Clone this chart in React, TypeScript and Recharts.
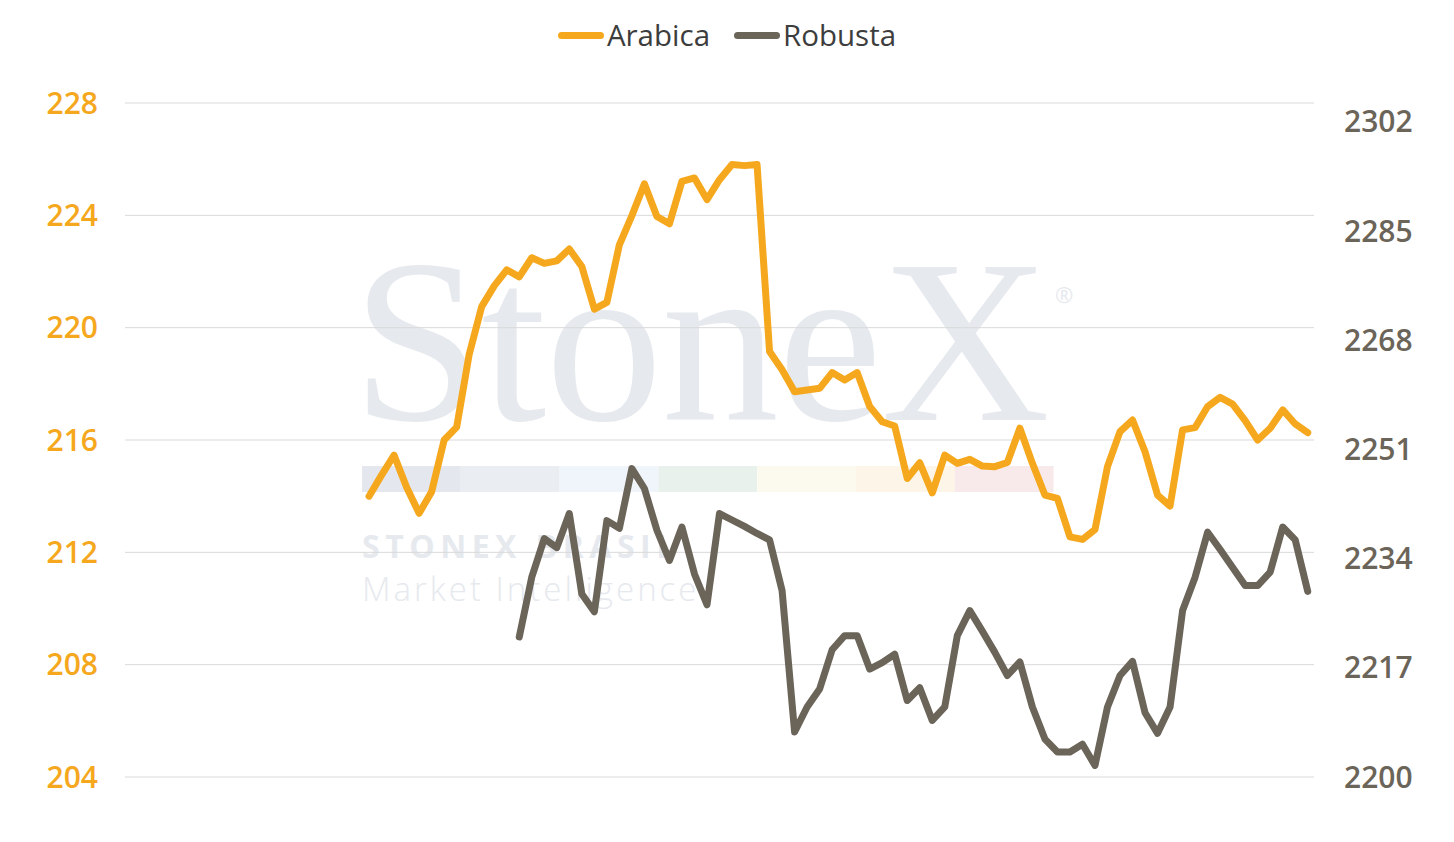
import React from 'react';
import { LineChart, Line, XAxis, YAxis, CartesianGrid, Legend } from 'recharts';

// Trading-day slots on the horizontal axis (no labels shown in the original)
const slotCount = 95;
const categories: string[] = Array.from({ length: slotCount }, (_, i) => `D${i + 1}`);

// Arabica (left axis) starts at slot 20
const arabicaStart = 19;
const arabica: number[] = [
  214.0, 214.75, 215.46, 214.32, 213.39, 214.16, 216.0, 216.46, 219.05, 220.75,
  221.49, 222.06, 221.81, 222.49, 222.29, 222.38, 222.8, 222.18, 220.66, 220.9,
  222.95, 223.99, 225.12, 223.96, 223.7, 225.21, 225.33, 224.56, 225.27, 225.81,
  225.77, 225.81, 219.15, 218.5, 217.72, 217.78, 217.84, 218.4, 218.14, 218.4,
  217.19, 216.65, 216.5, 214.63, 215.19, 214.12, 215.46, 215.17, 215.31, 215.07,
  215.05, 215.2, 216.42, 215.17, 214.04, 213.92, 212.55, 212.46, 212.81, 215.05,
  216.3, 216.71, 215.58, 214.04, 213.65, 216.36, 216.44, 217.19, 217.52, 217.28,
  216.69, 216.0, 216.42, 217.07, 216.57, 216.26,
];

// Robusta (right axis) starts at slot 32
const robustaStart = 31;
const robusta: number[] = [
  2221.8, 2231.1, 2237.1, 2235.7, 2241.0, 2228.5, 2225.7, 2239.9, 2238.7, 2248.0,
  2244.9, 2238.4, 2233.7, 2238.9, 2231.6, 2226.8, 2241.0, 2240.0, 2239.0, 2237.9,
  2236.9, 2229.0, 2207.0, 2210.9, 2213.7, 2219.8, 2222.0, 2222.0, 2216.8, 2217.8,
  2219.1, 2211.9, 2213.9, 2208.8, 2210.9, 2222.0, 2225.9, 2222.7, 2219.4, 2215.8,
  2217.9, 2210.9, 2205.9, 2203.9, 2203.9, 2205.1, 2201.8, 2210.9, 2215.8, 2218.0,
  2210.0, 2206.8, 2210.9, 2225.9, 2231.1, 2238.1, 2235.4, 2232.6, 2229.8, 2229.8,
  2231.9, 2238.9, 2236.9, 2228.9,
];

const leftTicks = [204, 208, 212, 216, 220, 224, 228];
const rightTicks = [2200, 2217, 2234, 2251, 2268, 2285, 2302];

const ARABICA_COLOR = '#F5A81D';
const ROBUSTA_COLOR = '#6B6459';

const data = categories.map((c, i) => ({
  day: c,
  Arabica: i >= arabicaStart && i - arabicaStart < arabica.length ? arabica[i - arabicaStart] : null,
  Robusta: i >= robustaStart && i - robustaStart < robusta.length ? robusta[i - robustaStart] : null,
}));

const tickFont = { fontFamily: 'Open Sans', fontWeight: 600, fontSize: 30 };

const LegendContent = () => (
  <div
    style={{
      display: 'flex',
      justifyContent: 'center',
      alignItems: 'center',
      height: 40,
      fontFamily: 'Open Sans',
      fontSize: 29.5,
      color: '#3d3d3d',
    }}
  >
    {[
      { name: 'Arabica', color: ARABICA_COLOR },
      { name: 'Robusta', color: ROBUSTA_COLOR },
    ].map((it, k) => (
      <div key={it.name} style={{ display: 'flex', alignItems: 'center', marginLeft: k ? 24 : 0 }}>
        <div style={{ width: 46, height: 7, borderRadius: 4, background: it.color, marginRight: 3 }} />
        <span style={{ lineHeight: '40px' }}>{it.name}</span>
      </div>
    ))}
  </div>
);

const barColors = ['#e4e7ed', '#eaeef2', '#eff5fa', '#e8f1ec', '#fcfaee', '#fdf5e8', '#f8e9ea'];

const Watermark = () => (
  <svg width={1454} height={842} style={{ position: 'absolute', left: 0, top: 0 }}>
    <text
      x={352}
      y={420}
      fontFamily="Liberation Serif"
      fontSize={234}
      fill="#e6e9ee"
      textLength={698}
      lengthAdjust="spacing"
    >
      StoneX
    </text>
    <text x={1055} y={303} fontFamily="Open Sans" fontSize={22} fill="#e6e9ee">
      ®
    </text>
    {barColors.map((c, k) => (
      <rect key={k} x={362 + k * 98.8} y={466} width={98.8} height={26} fill={c} />
    ))}
    <text x={362} y={558} fontFamily="Open Sans" fontWeight={700} fontSize={32} letterSpacing={5.5} fill="#e6e9ee">
      STONEX BRASIL
    </text>
    <text x={362} y={601} fontFamily="Open Sans" fontWeight={300} fontSize={33} letterSpacing={3} fill="#e6e9ee">
      Market Intelligence
    </text>
  </svg>
);

export default function App() {
  return (
    <div style={{ position: 'absolute', left: 0, top: 0, width: 1454, height: 842, background: '#fff' }}>
      <Watermark />
      <div style={{ position: 'absolute', left: 0, top: 0 }}>
        <LineChart width={1454} height={842} data={data} margin={{ top: 103, right: 0, bottom: 65, left: 0 }}>
          <CartesianGrid yAxisId="left" vertical={false} stroke="#d9d9d9" strokeWidth={1} />
          <XAxis dataKey="day" hide padding={{ left: 6.26, right: 6.26 }} />
          <YAxis
            yAxisId="left"
            orientation="left"
            width={125}
            domain={[204, 228]}
            ticks={leftTicks}
            axisLine={false}
            tickLine={false}
            tickSize={0}
            tickMargin={27}
            tick={{ ...tickFont, fill: ARABICA_COLOR }}
          />
          <YAxis
            yAxisId="right"
            orientation="right"
            width={140}
            domain={[2200, 2304.9]}
            ticks={rightTicks}
            axisLine={false}
            tickLine={false}
            tickSize={0}
            tickMargin={30}
            tick={{ ...tickFont, fill: ROBUSTA_COLOR }}
          />
          <Legend
            verticalAlign="middle"
            layout="horizontal"
            wrapperStyle={{ top: 15, left: 0, width: 1454 }}
            content={() => <LegendContent />}
          />
          <Line
            yAxisId="left"
            type="linear"
            dataKey="Arabica"
            stroke={ARABICA_COLOR}
            strokeWidth={7}
            strokeLinejoin="round"
            strokeLinecap="round"
            dot={false}
            activeDot={false}
            isAnimationActive={false}
          />
          <Line
            yAxisId="right"
            type="linear"
            dataKey="Robusta"
            stroke={ROBUSTA_COLOR}
            strokeWidth={7}
            strokeLinejoin="round"
            strokeLinecap="round"
            dot={false}
            activeDot={false}
            isAnimationActive={false}
          />
        </LineChart>
      </div>
    </div>
  );
}
